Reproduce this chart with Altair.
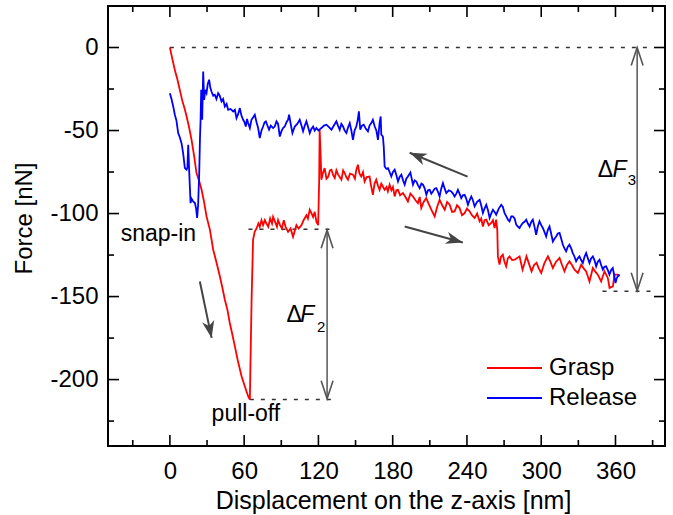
import altair as alt
import pandas as pd

# ---------------- data ----------------
grasp_x = [0, 2, 4, 6, 8, 10, 12, 13.5, 15.5, 17.5, 19.5, 21.5, 23.5, 25.6, 27.6, 29.6, 32.3, 35, 37.5,
           40.4, 42.5, 44.4, 46.5, 48.4, 50.5, 52.5, 55, 57.9, 60.5, 63.2, 64.6, 66, 67.2, 68.5, 70,
           71.5, 72.6, 74, 75.3, 76.7, 78, 79.5, 81, 82.5, 83.4, 85, 86.5, 87.4, 89, 90.5, 92, 93.5,
           95.5, 97.5, 99.5, 101, 102.2, 104, 106.3, 108, 110.3, 111.5, 113, 114.5, 115.7, 117, 118.4,
           119.8, 120.6, 121, 121.8, 122.4, 123.5, 125, 126.5, 128, 129.3, 130.5, 132, 133.2, 134.5,
           135.9, 137.2, 138.6, 140, 141.2, 142.5, 143.9, 145.5, 147.9, 149.5, 150.5, 151.9, 153.2,
           154.6, 156, 157.3, 159, 161.3, 162.5, 164, 165.3, 166.7, 168, 169.4, 170.8, 172.1, 173.5,
           175, 176.1, 177.5, 179, 180.2, 181.6, 183, 184.3, 186, 188.3, 190.3, 192.3, 194.3, 196.4,
           198.4, 200.4, 201.8, 203.1, 205, 207.1, 209, 211.2, 213.9, 215.9, 217.9, 220, 222, 224,
           226, 228, 230, 232, 234, 236, 238.1, 240, 242.1, 244, 246.2, 248.2, 250.2, 251.5, 252.9,
           254.2, 255.6, 257.6, 259.6, 261, 262.3, 263.6, 264.5, 265, 266.3, 267.5, 269, 270.3,
           271.7, 273, 274.4, 276.5, 278.5, 280.9, 282.5, 284.9, 286.5, 288.1, 290, 292.2, 294.2,
           296.2, 298, 300, 302.5, 305.4, 307.4, 309.4, 312, 314.8, 316.8, 318.8, 320.8, 322.8,
           324.8, 326.9, 329.6, 332.3, 334.3, 336.3, 339, 341.7, 343.7, 345.7, 348.4, 351.1, 353.8,
           355.2, 357.9, 359.2, 361.9, 363.5]
grasp_y = [0, -7, -13.5, -19, -25.5, -32, -37, -41.5, -48, -55.6, -65, -75.6, -80, -85.7, -93, -101.7,
           -109.7, -121.8, -129, -137.9, -145, -151.9, -158, -165.9, -173, -180, -189, -198, -204,
           -210, -212, -152, -115.7, -111, -109, -106, -108, -104, -107, -104, -106, -108, -103,
           -106, -102, -105, -108, -104, -107, -109, -104, -108, -111, -109, -114, -110, -107,
           -109, -107, -104, -101, -103, -97.7, -100, -102, -99, -105, -107, -80, -49.5, -65,
           -79.6, -76, -72.6, -79, -77.7, -74, -73.6, -77, -78.6, -74, -76.6, -78, -79.6, -74,
           -75.6, -78, -79.6, -76, -76.6, -79, -74, -70.6, -76, -77.7, -75, -80.7, -78, -77.7, -83,
           -88.7, -82, -79.6, -83, -85.7, -82, -83.7, -85.7, -84, -86.7, -82.6, -86, -84, -89.7,
           -86, -85.7, -89, -87.7, -90, -92.7, -88, -89.7, -92, -93.7, -90, -96.7, -93, -90.7,
           -94, -97.7, -101.7, -96, -91.7, -95, -97.7, -93, -94.7, -99, -98.7, -95, -96.7, -101,
           -99.7, -97, -98.7, -101, -102.7, -100, -104.7, -103, -107.8, -104, -103.7, -107,
           -105.7, -104, -108.7, -103.7, -110, -125.8, -130.8, -126, -124.8, -129, -131.8, -127,
           -125.8, -128, -127.8, -126.6, -125.8, -133.8, -130, -125.8, -130, -134.8, -131,
           -129.6, -133, -135.8, -130, -125.8, -129, -132.8, -129, -126.8, -131, -134.8, -131,
           -128.8, -131, -133.8, -135.8, -130.8, -133, -134.8, -140.9, -132.8, -135, -136.8,
           -140.9, -134.8, -138.8, -144.8, -143.9, -136.8, -136.8, -137.5]

release_x = [0, 1.3, 2.7, 4, 5.3, 6.7, 8, 9.4, 10.7, 12.1, 13.5, 14.2, 14.8, 15.6, 16.2, 16.7, 17.5,
             18.8, 20.2, 21.2, 22, 22.8, 23.7, 24.3, 24.8, 25.3, 25.8, 26.1, 26.9, 27.7, 28.5, 29.6,
             30.6, 31.7, 32.6, 33.6, 35, 36.3, 37.6, 39, 40.3, 41.7, 43, 44.4, 45.8, 47.1, 49, 51.1,
             52.5, 53.8, 55.2, 56.5, 57.8, 59.2, 60.3, 61.3, 62.3, 63.2, 64.6, 65.9, 67.3, 68.6, 70,
             71.3, 72.6, 74, 75.3, 76.5, 77.5, 78.8, 80.1, 81.5, 83.4, 84.7, 86.1, 87.4, 88.8, 90.1,
             91.4, 92.8, 94.2, 95.5, 96.3, 97.6, 99, 100.9, 102.9, 104.9, 106.3, 107.6, 109, 110.3,
             111.7, 113, 114.3, 115.7, 117, 118.4, 120, 121.5, 122.4, 124.5, 126.5, 128.5, 130.5,
             132.5, 134.5, 135.8, 137.2, 138.5, 139.9, 141.2, 142.6, 144, 145.3, 146.6, 147.9, 149.2,
             150.6, 151.7, 152.7, 153.8, 155.2, 156.6, 158.3, 160, 161.3, 162.7, 164, 165.5, 166.8,
             168.1, 169.4, 170.3, 170.8, 172.1, 172.8, 173.5, 174.8, 176.2, 177.5, 178.9, 180.2,
             181.6, 183, 184.3, 185.6, 187, 188.4, 189.7, 191, 192.3, 194.3, 196.4, 197.7, 199.1,
             200.5, 201.8, 203.2, 204.5, 205.9, 207.2, 208.5, 209.9, 211.2, 212.5, 213.9, 215.2,
             216.6, 217.9, 219.2, 220.6, 222, 223.3, 225.3, 227.3, 228.7, 230, 231.4, 232.7, 234,
             235.4, 236.7, 238.1, 239.4, 240.8, 242.1, 243.5, 244.8, 246.2, 248.2, 250.2, 251.5,
             252.9, 254.2, 255.6, 257, 258.3, 259.6, 261, 262.3, 263.6, 265.7, 267.7, 269, 270.4,
             271.8, 273.1, 274.4, 275.8, 277.1, 278.5, 279.8, 281.1, 282.5, 283.8, 285.2, 286.5,
             287.9, 289.2, 290.6, 291.9, 293.2, 294.6, 295.9, 297.2, 298.6, 300, 301.3, 302.6, 304,
             305.3, 306.7, 308, 309.4, 310.8, 312.1, 313.4, 314.8, 316.1, 317.5, 318.8, 320.1, 321.5,
             322.8, 324.2, 325.5, 326.9, 328.2, 329.5, 330.9, 332.2, 333.6, 335, 336.3, 337.7, 339,
             340.3, 341.7, 343, 344.4, 345.7, 347.1, 348.4, 349.8, 351.1, 352.4, 353.8, 355.1,
             356.5, 357.8, 358.9, 360, 361, 361.9, 363.2]
release_y = [-27.5, -31, -35.5, -40.5, -44, -51.5, -54, -57.6, -63.6, -72.6, -73.6, -72, -58.6, -74.6,
             -85, -93.7, -91, -92.7, -93.7, -97, -102.7, -95, -75.6, -55, -43.5, -25.5, -35, -43.5,
             -14.4, -31.5, -25.5, -27.5, -22, -19.4, -24, -26.5, -29, -28.5, -31, -27.5, -29, -32.5,
             -31, -35.5, -34, -37.5, -37, -38.5, -37.5, -42.5, -40, -36.5, -41, -43.5, -45, -47.6,
             -43, -45.5, -48.5, -43.5, -42, -40.5, -45, -48.5, -54.5, -50, -47.6, -45, -44.5, -47,
             -49.5, -47, -48.5, -47.6, -44.5, -46, -53.6, -50.5, -48.5, -47.6, -45, -43.5, -40.5,
             -46, -51.5, -47.6, -46, -43.5, -47, -50.5, -47, -44.5, -48, -51.5, -49, -47.6, -50,
             -48.5, -50, -49, -48.5, -47, -46.5, -48, -49.5, -47, -44.5, -47, -49.5, -46, -47.6,
             -50, -51.5, -48, -45.5, -50, -55.6, -50, -47.6, -44, -38.5, -49.5, -47, -46.5, -49,
             -50.5, -47, -45.5, -43.5, -47.6, -50, -55.6, -45.5, -41.5, -52.5, -53.6, -60, -71.6,
             -73, -72.6, -75, -77.7, -75, -73.6, -77, -80.7, -78, -76.6, -80, -82.6, -79, -77.7,
             -75.3, -82.6, -80, -80.7, -83, -84.7, -82, -82.6, -85, -88.7, -86, -85.7, -88, -86.7,
             -85, -84.7, -87, -89.7, -85, -81.6, -85, -87.7, -86, -86.7, -88, -89.7, -88, -85.7,
             -88, -90.7, -89, -88.7, -91, -94.7, -92, -89.7, -92, -95.7, -93, -91.7, -95, -99.7,
             -97, -94.7, -98, -102.7, -100, -97.7, -99, -100.7, -97, -94.7, -96, -99.7, -101.7,
             -103.7, -104.7, -101.7, -101.7, -103, -106.7, -107.8, -108.7, -107, -105.7, -105,
             -103.7, -106, -107.8, -105, -103.7, -108, -112.8, -108, -104.7, -107, -108.7, -111,
             -113.8, -110, -107.8, -112, -116.8, -115, -113.8, -112, -111.7, -115, -118.8, -121,
             -122.8, -120, -118.8, -121, -123.8, -126, -128.8, -127, -125.8, -128, -129.8, -126,
             -123.8, -127, -129.8, -127, -125.8, -128, -131.8, -129, -127.8, -131, -133.8, -132,
             -131.8, -134, -136.8, -134, -132.8, -137, -141.9, -139, -137.8, -136.8]

series_names = ["Grasp", "Release"]
series_colors = ["#ff0000", "#0000ff"]

x_major = [0, 60, 120, 180, 240, 300, 360]
x_minor = [-30, 30, 90, 150, 210, 270, 330, 390]
y_major = [0, -50, -100, -150, -200]
y_minor = [-25, -75, -125, -175, -225]

# annotation guide lines (dashed levels): x start, x end, level
dash_x = [0, 63.5, 64.6, 349.5]
dash_x2 = [390, 131, 131, 389]
dash_y = [0, -109.5, -212, -146.8]

# double arrows for delta F: x, top, bottom
dbl_x = [127, 377.5]
dbl_top = [-110, 0]
dbl_bot = [-211.5, -146.5]

# direction arrows: start -> tip
dir_x = [24.2, 240.5, 189.7]
dir_y = [-140.9, -77.8, -107.8]
dir_x2 = [33.7, 193.7, 236.7]
dir_y2 = [-174.9, -63.4, -117.4]
dir_angle = [78.3, 202.5, 15.4]

# texts
label_text = ["snap-in", "pull-off", "\u0394", "\u0394"]
label_x = [-39.8, 33.7, 94.2, 345.7]
label_y = [-116.4, -224.7, -165.4, -77.7]
F_x = [105.4, 357.5]
F_y = [-165.4, -77.7]
sub_text = ["2", "3"]
sub_x = [118.8, 370]
sub_y = [-171.6, -83.1]

# ---------------- chart ----------------
W, H = 557, 440
FONT = "Liberation Sans"
GRAY = "#444444"

xs = alt.Scale(domain=[-50, 400], nice=False, zero=False)
ys = alt.Scale(domain=[-240, 25], nice=False, zero=False)

x_axis = alt.Axis(values=x_major, title="Displacement on the z-axis [nm]", grid=False, ticks=False,
                  domain=False, labelFont=FONT, labelFontSize=24, labelColor="black",
                  labelPadding=13, titleFont=FONT, titleFontSize=25, titleFontWeight="normal",
                  titleColor="black", titlePadding=5, titleX=285, labelExpr="'' + datum.value")
y_axis = alt.Axis(values=y_major, title="Force [nN]", grid=False, ticks=False, domain=False,
                  labelFont=FONT, labelFontSize=24, labelColor="black", labelPadding=10,
                  titleFont=FONT, titleFontSize=24, titleFontWeight="normal", titleColor="black",
                  titlePadding=13, titleY=212, labelExpr="'' + datum.value")


def X(f="x"):
    return alt.X(f"{f}:Q", scale=xs, axis=x_axis)


def Y(f="y"):
    return alt.Y(f"{f}:Q", scale=ys, axis=y_axis)


curves = pd.DataFrame({
    "x": grasp_x + release_x,
    "y": grasp_y + release_y,
    "series": ["Grasp"] * len(grasp_x) + ["Release"] * len(release_x),
    "i": list(range(len(grasp_x))) + list(range(len(release_x))),
})

lines = alt.Chart(curves).mark_line(strokeWidth=1.8).encode(
    x=X(), y=Y(),
    color=alt.Color("series:N", scale=alt.Scale(domain=series_names, range=series_colors),
                    legend=alt.Legend(orient="none", legendX=378, legendY=347, title=None,
                                      symbolType="stroke", symbolSize=3025, symbolStrokeWidth=1.8,
                                      clipHeight=30, rowPadding=0, labelOffset=6, padding=0,
                                      labelFont=FONT, labelFontSize=24, labelColor="black")),
    order="i:Q",
)

dash_df = pd.DataFrame({"x": dash_x, "x2": dash_x2, "y": dash_y})
dashes = alt.Chart(dash_df).mark_rule(strokeDash=[4, 7], strokeWidth=1.5, color="#333333").encode(
    x=X(), x2="x2:Q", y=Y())

dbl_df = pd.DataFrame({"x": dbl_x, "y": dbl_top, "y2": dbl_bot})
dbl = alt.Chart(dbl_df).mark_rule(strokeWidth=1.5, color="#555555").encode(x=X(), y=Y(), y2="y2:Q")

vhead_df = pd.DataFrame({"x": dbl_x + dbl_x, "y": dbl_top + dbl_bot,
                         "a": [0] * len(dbl_x) + [180] * len(dbl_x)})
vheads = alt.Chart(vhead_df).mark_point(shape="M-0.33,1L0,0L0.33,1", filled=False, size=1296,
                                        strokeWidth=1.6, color="#555555", opacity=1).encode(
    x=X(), y=Y(), angle=alt.Angle("a:Q", scale=None))

dir_df = pd.DataFrame({"x": dir_x, "y": dir_y, "x2": dir_x2, "y2": dir_y2})
shafts = alt.Chart(dir_df).mark_rule(strokeWidth=2, color=GRAY).encode(
    x=X(), y=Y(), x2="x2:Q", y2="y2:Q")

head_df = pd.DataFrame({"x": dir_x2, "y": dir_y2, "a": dir_angle})
heads = alt.Chart(head_df).mark_point(shape="M0,0L-1,-0.36L-0.72,0L-1,0.36Z", filled=True,
                                      size=1156, color=GRAY, opacity=1, strokeWidth=0).encode(
    x=X(), y=Y(), angle=alt.Angle("a:Q", scale=None))

txt_df = pd.DataFrame({"x": label_x, "y": label_y, "t": label_text})
texts = alt.Chart(txt_df).mark_text(font=FONT, fontSize=23, align="left", baseline="alphabetic",
                                    color="black").encode(x=X(), y=Y(), text="t:N")

f_df = pd.DataFrame({"x": F_x, "y": F_y, "t": ["F"] * len(F_x)})
ftexts = alt.Chart(f_df).mark_text(font=FONT, fontSize=23, fontStyle="italic", align="left",
                                   baseline="alphabetic", color="black").encode(
    x=X(), y=Y(), text="t:N")

sub_df = pd.DataFrame({"x": sub_x, "y": sub_y, "t": sub_text})
subs = alt.Chart(sub_df).mark_text(font=FONT, fontSize=15, align="left", baseline="alphabetic",
                                   color="black").encode(x=X(), y=Y(), text="t:N")

# inward tick marks on all four sides
xmaj_df = pd.DataFrame({"x": x_major})
xmin_df = pd.DataFrame({"x": x_minor})
ymaj_df = pd.DataFrame({"y": y_major})
ymin_df = pd.DataFrame({"y": y_minor})
TK = dict(color="black", strokeWidth=1.6)
ticks = [
    alt.Chart(xmaj_df).mark_rule(**TK).encode(x=X(), y=alt.value(H), y2=alt.value(H - 11)),
    alt.Chart(xmaj_df).mark_rule(**TK).encode(x=X(), y=alt.value(0), y2=alt.value(11)),
    alt.Chart(xmin_df).mark_rule(**TK).encode(x=X(), y=alt.value(H), y2=alt.value(H - 6)),
    alt.Chart(xmin_df).mark_rule(**TK).encode(x=X(), y=alt.value(0), y2=alt.value(6)),
    alt.Chart(ymaj_df).mark_rule(**TK).encode(y=Y(), x=alt.value(0), x2=alt.value(11)),
    alt.Chart(ymaj_df).mark_rule(**TK).encode(y=Y(), x=alt.value(W), x2=alt.value(W - 11)),
    alt.Chart(ymin_df).mark_rule(**TK).encode(y=Y(), x=alt.value(0), x2=alt.value(6)),
    alt.Chart(ymin_df).mark_rule(**TK).encode(y=Y(), x=alt.value(W), x2=alt.value(W - 6)),
]

chart = alt.layer(dashes, dbl, vheads, shafts, heads, lines, texts, ftexts, subs, *ticks).properties(
    width=W, height=H,
    padding={"left": 108, "top": 6, "right": 8, "bottom": 69},
    autosize=alt.AutoSizeParams(type="none"),
    background="white",
).configure_view(stroke="black", strokeWidth=2)

chart.save("out.html", embed_options={"renderer": "svg", "actions": False})
